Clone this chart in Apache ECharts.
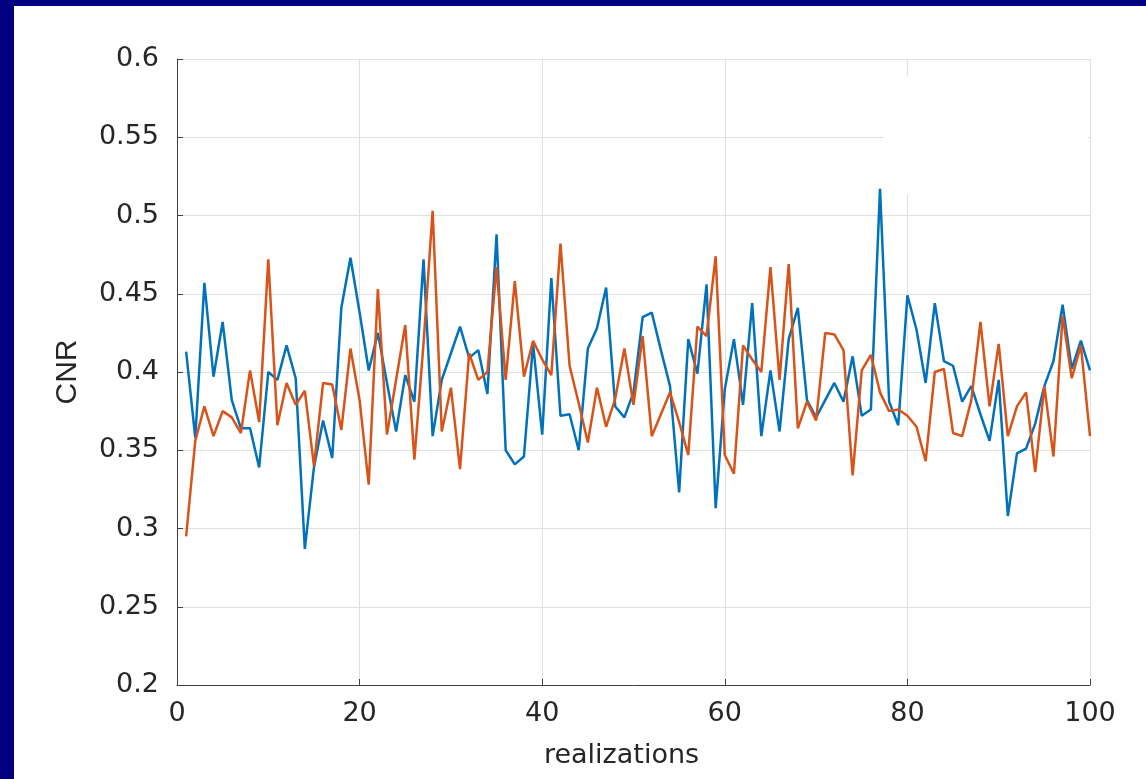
<!DOCTYPE html>
<html>
<head>
    <meta charset="utf-8">
    <title>CNR realizations</title>
    <style>
        html, body { margin: 0; padding: 0; background: #000080; }
        #main { position: absolute; left: 14px; top: 6px; width: 1132px; height: 773px; background: #ffffff; }
    </style>
</head>
<body>
    <div id="main"></div>
    <script src="https://cdn.jsdelivr.net/npm/echarts@6/dist/echarts.min.js"></script>
    <script type="text/javascript">
        // x tick labels and y tick labels
        var xTicks = [0, 20, 40, 60, 80, 100];
        var yTicks = [0.2, 0.25, 0.3, 0.35, 0.4, 0.45, 0.5, 0.55, 0.6];

        // CNR per realization (1..100)
        var cnrBlue = [
            0.413, 0.358, 0.457, 0.397, 0.432, 0.382, 0.364, 0.364, 0.339, 0.400,
            0.395, 0.417, 0.396, 0.287, 0.339, 0.369, 0.345, 0.441, 0.473, 0.438,
            0.401, 0.425, 0.393, 0.362, 0.398, 0.381, 0.472, 0.359, 0.395, 0.412,
            0.429, 0.409, 0.414, 0.386, 0.488, 0.350, 0.341, 0.346, 0.418, 0.360,
            0.460, 0.372, 0.373, 0.350, 0.415, 0.428, 0.454, 0.378, 0.371, 0.387,
            0.435, 0.438, 0.414, 0.391, 0.323, 0.421, 0.399, 0.456, 0.313, 0.389,
            0.421, 0.379, 0.444, 0.359, 0.401, 0.362, 0.421, 0.441, 0.382, 0.371,
            0.382, 0.393, 0.381, 0.410, 0.372, 0.376, 0.517, 0.381, 0.366, 0.449,
            0.427, 0.393, 0.444, 0.407, 0.404, 0.381, 0.391, 0.373, 0.356, 0.395,
            0.308, 0.348, 0.351, 0.367, 0.391, 0.407, 0.443, 0.402, 0.420, 0.401
        ];
        var cnrOrange = [
            0.295, 0.356, 0.378, 0.359, 0.375, 0.371, 0.361, 0.401, 0.368, 0.472,
            0.366, 0.393, 0.379, 0.388, 0.340, 0.393, 0.392, 0.363, 0.415, 0.382,
            0.328, 0.453, 0.360, 0.395, 0.430, 0.344, 0.418, 0.503, 0.362, 0.390,
            0.338, 0.412, 0.395, 0.400, 0.467, 0.395, 0.458, 0.397, 0.420, 0.408,
            0.398, 0.482, 0.404, 0.380, 0.355, 0.390, 0.365, 0.383, 0.415, 0.379,
            0.423, 0.359, 0.373, 0.387, 0.368, 0.347, 0.429, 0.423, 0.474, 0.347,
            0.335, 0.417, 0.408, 0.400, 0.467, 0.395, 0.469, 0.364, 0.381, 0.369,
            0.425, 0.424, 0.414, 0.334, 0.401, 0.411, 0.387, 0.375, 0.376, 0.372,
            0.365, 0.343, 0.400, 0.402, 0.361, 0.359, 0.382, 0.432, 0.378, 0.418,
            0.359, 0.378, 0.387, 0.336, 0.391, 0.346, 0.436, 0.396, 0.417, 0.359
        ];

        function pairs(values) {
            return values.map(function (v, i) { return [i + 1, v]; });
        }

        var textColor = '#262626';
        var axisColor = '#404040';
        var gridColor = '#e0e0e0';
        var font = 'DejaVu Sans, sans-serif';

        var myChart = echarts.init(document.getElementById('main'));
        var option = {
            animation: false,
            grid: { left: 163, right: 56, top: 53, bottom: 94 },
            xAxis: {
                type: 'value',
                min: xTicks[0],
                max: xTicks[xTicks.length - 1],
                interval: 20,
                name: 'realizations',
                nameLocation: 'middle',
                nameGap: 57,
                nameTextStyle: { color: textColor, fontSize: 27, fontFamily: font, padding: [0, 24, 0, 0] },
                axisLine: { lineStyle: { color: axisColor, width: 1 } },
                axisTick: { inside: true, length: 6, lineStyle: { color: axisColor } },
                axisLabel: { color: textColor, fontSize: 27, fontFamily: font, margin: 15 },
                splitLine: { show: true, lineStyle: { color: gridColor, width: 1 } }
            },
            yAxis: {
                type: 'value',
                min: yTicks[0],
                max: yTicks[yTicks.length - 1],
                interval: 0.05,
                name: 'CNR',
                nameLocation: 'middle',
                nameGap: 94,
                nameTextStyle: { color: textColor, fontSize: 30, fontFamily: 'Liberation Sans, Arial, sans-serif' },
                axisLine: { show: true, lineStyle: { color: axisColor, width: 1 } },
                axisTick: { show: true, inside: true, length: 6, lineStyle: { color: axisColor } },
                axisLabel: {
                    color: textColor, fontSize: 27, fontFamily: font, margin: 18,
                    formatter: function (v) { return String(parseFloat(v.toFixed(2))); }
                },
                splitLine: { show: true, lineStyle: { color: gridColor, width: 1 } }
            },
            graphic: [{
                type: 'rect',
                z: 1,
                shape: { x: 870, y: 70, width: 204, height: 119 },
                style: { fill: '#ffffff' }
            }],
            series: [
                {
                    type: 'line',
                    data: pairs(cnrBlue),
                    showSymbol: false,
                    z: 3,
                    lineStyle: { color: '#0072BD', width: 2.5 }
                },
                {
                    type: 'line',
                    data: pairs(cnrOrange),
                    showSymbol: false,
                    z: 4,
                    lineStyle: { color: '#D95319', width: 2.5 }
                }
            ]
        };
        myChart.setOption(option);
    </script>
</body>
</html>
